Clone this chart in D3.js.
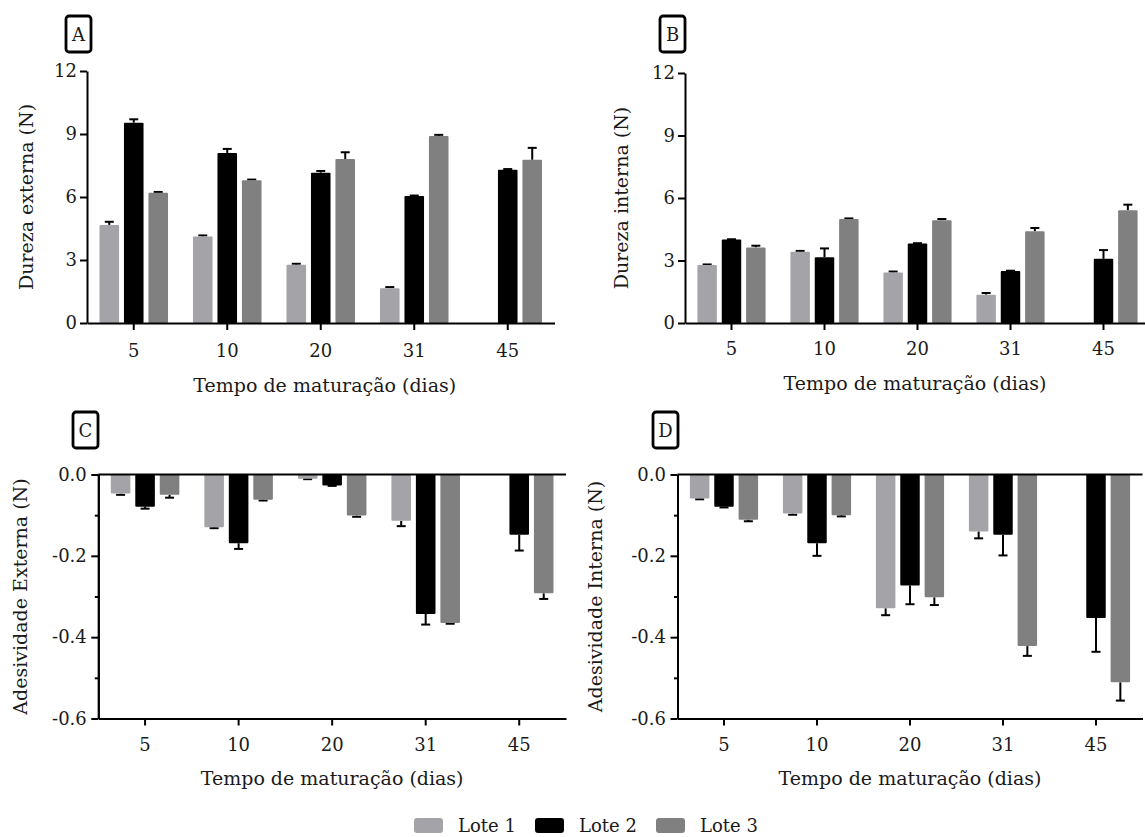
<!DOCTYPE html>
<html lang="pt">
<meta charset="utf-8">
<title>Dureza e adesividade</title>
<script src="https://d3js.org/d3.v7.min.js"></script>
<style>
body { margin: 0; background: #fff; }
svg text { font-family: Georgia, "DejaVu Serif", serif; fill: #1a1a1a; }
.axis path, .axis line { stroke: #000; stroke-width: 2; }
.axis text { font-size: 18px; }
.title { font-size: 19px; }
</style>
<body>
<div id="chart"></div>
<script>
// categories
const days = ["5", "10", "20", "31", "45"];
const lotes = ["Lote 1", "Lote 2", "Lote 3"];
const colors = ["#a4a4a8", "#000000", "#808080"];

// A - Dureza externa (N), mean and error
const extL1 = [4.67, 4.12, 2.77, 1.66, null];
const extL2 = [9.54, 8.10, 7.16, 6.05, 7.30];
const extL3 = [6.20, 6.80, 7.81, 8.91, 7.77];
const extL1Err = [0.15, 0.05, 0.05, 0.05, null];
const extL2Err = [0.16, 0.19, 0.08, 0.02, 0.03];
const extL3Err = [0.04, 0.03, 0.32, 0.05, 0.57];

// B - Dureza interna (N)
const intL1 = [2.78, 3.42, 2.43, 1.36, null];
const intL2 = [4.01, 3.16, 3.82, 2.50, 3.08];
const intL3 = [3.63, 4.99, 4.93, 4.41, 5.41];
const intL1Err = [0.03, 0.04, 0.04, 0.08, null];
const intL2Err = [0.01, 0.42, 0.01, 0.01, 0.42];
const intL3Err = [0.08, 0.03, 0.06, 0.15, 0.27];

// C - Adesividade externa (N)
const adExtL1 = [-0.047, -0.130, -0.0105, -0.114, null];
const adExtL2 = [-0.079, -0.169, -0.027, -0.343, -0.148];
const adExtL3 = [-0.050, -0.062, -0.101, -0.365, -0.292];
const adExtL1Err = [0.003, 0.002, 0.001, 0.013, null];
const adExtL2Err = [0.005, 0.014, 0.001, 0.026, 0.039];
const adExtL3Err = [0.007, 0.002, 0.003, 0.002, 0.014];

// D - Adesividade interna (N)
const adIntL1 = [-0.059, -0.096, -0.329, -0.140, null];
const adIntL2 = [-0.079, -0.169, -0.273, -0.148, -0.353];
const adIntL3 = [-0.111, -0.100, -0.302, -0.422, -0.511];
const adIntL1Err = [0.002, 0.003, 0.017, 0.017, null];
const adIntL2Err = [0.002, 0.031, 0.046, 0.051, 0.083];
const adIntL3Err = [0.004, 0.003, 0.019, 0.024, 0.045];

const durezaTicks = [0, 3, 6, 9, 12];
const adesTicks = [-0.6, -0.4, -0.2, 0];
const adesMinor = [-0.5, -0.3, -0.1];
const xTitle = "Tempo de maturação (dias)";

const W = 1145, H = 837;
const svg = d3.select("#chart").append("svg")
  .attr("width", W).attr("height", H);

// plain hyphen instead of the unicode minus d3 uses
const fmt1 = d => d3.format(".1f")(d).replace("\u2212", "-");

function drawPanel(p) {
  const g = svg.append("g");
  const series = [p.s1, p.s2, p.s3];
  const errs = [p.e1, p.e2, p.e3];

  const x = d3.scaleBand().domain(days).range([p.x0, p.x1]);
  const xIn = d3.scaleBand().domain(lotes)
    .range([0, x.bandwidth()])
    .paddingInner(0.2).paddingOuter(0.51);
  const y = d3.scaleLinear().domain(p.domain).range([p.yBottom, p.yTop]);

  // rows: one per bar
  const rows = [];
  lotes.forEach((l, i) => {
    days.forEach((d, j) => {
      if (series[i][j] != null) rows.push({day: d, lote: l, i: i, v: series[i][j], e: errs[i][j]});
    });
  });

  // error bars (behind bars)
  const eb = g.append("g").attr("stroke", "#000").attr("stroke-width", 2);
  rows.forEach(r => {
    const cx = x(r.day) + xIn(r.lote) + xIn.bandwidth() / 2;
    const end = r.v + Math.sign(r.v) * r.e;
    eb.append("line").attr("x1", cx).attr("x2", cx).attr("y1", y(r.v)).attr("y2", y(end));
    eb.append("line").attr("x1", cx - 4.5).attr("x2", cx + 4.5).attr("y1", y(end)).attr("y2", y(end));
  });

  g.append("g").selectAll("rect").data(rows).join("rect")
    .attr("x", r => x(r.day) + xIn(r.lote))
    .attr("width", xIn.bandwidth())
    .attr("y", r => Math.min(y(r.v), y(0)))
    .attr("height", r => Math.abs(y(r.v) - y(0)))
    .attr("rx", 1)
    .attr("fill", r => colors[r.i]);

  // y axis
  g.append("g").attr("class", "axis")
    .attr("transform", `translate(${p.x0},0)`)
    .call(d3.axisLeft(y).tickValues(p.ticks).tickSize(7).tickSizeOuter(0)
      .tickPadding(p.pad).tickFormat(p.fmt));
  if (p.minor) {
    g.append("g").attr("class", "axis")
      .attr("transform", `translate(${p.x0},0)`)
      .call(d3.axisLeft(y).tickValues(p.minor).tickSize(3.5).tickSizeOuter(0).tickFormat(""));
  }

  // x axis at bottom
  const xa = g.append("g").attr("class", "axis")
    .attr("transform", `translate(0,${p.yBottom})`)
    .call(d3.axisBottom(x).tickSize(7).tickSizeOuter(0).tickPadding(p.xpad));
  xa.selectAll("text").attr("dy", 0).attr("y", p.xpad);

  // zero line when the bars hang downwards
  if (p.domain[1] === 0) {
    g.append("line").attr("stroke", "#000").attr("stroke-width", 2)
      .attr("x1", p.x0).attr("x2", p.x1).attr("y1", y(0)).attr("y2", y(0));
  }

  // titles
  g.append("text").attr("class", "title")
    .attr("text-anchor", "middle")
    .attr("x", (p.x0 + Math.min(p.x1, W)) / 2 + p.tdx).attr("y", p.yBottom + p.tdy)
    .text(xTitle);
  g.append("text").attr("class", "title")
    .attr("text-anchor", "middle")
    .attr("transform", `translate(${p.yx},${(p.yTop + p.yBottom) / 2}) rotate(-90)`)
    .text(p.ytitle);

  // panel letter
  g.append("rect").attr("x", p.bx).attr("y", p.by).attr("width", 25).attr("height", 36)
    .attr("rx", 3).attr("fill", "#fff").attr("stroke", "#000").attr("stroke-width", 2.8);
  g.append("text").attr("x", p.bx + 12.5).attr("y", p.by + 25)
    .attr("text-anchor", "middle").style("font-size", "18px").text(p.letter);
}

drawPanel({letter: "A", bx: 66, by: 16, s1: extL1, s2: extL2, s3: extL3, e1: extL1Err, e2: extL2Err, e3: extL3Err,
  x0: 87, x1: 554.5, yTop: 71, yBottom: 323, domain: [0, 12], ticks: durezaTicks, fmt: d3.format("d"),
  pad: 3, xpad: 34, tdx: 4, tdy: 69, yx: 33, ytitle: "Dureza externa (N)"});
drawPanel({letter: "B", bx: 660, by: 16, s1: intL1, s2: intL2, s3: intL3, e1: intL1Err, e2: intL2Err, e3: intL3Err,
  x0: 685, x1: 1150, yTop: 73, yBottom: 323, domain: [0, 12], ticks: durezaTicks, fmt: d3.format("d"),
  pad: 3, xpad: 32, tdx: 0, tdy: 67, yx: 628, ytitle: "Dureza interna (N)"});
drawPanel({letter: "C", bx: 73, by: 412, s1: adExtL1, s2: adExtL2, s3: adExtL3, e1: adExtL1Err, e2: adExtL2Err, e3: adExtL3Err,
  x0: 98.3, x1: 566, yTop: 474.5, yBottom: 718.5, domain: [-0.6, 0], ticks: adesTicks, minor: adesMinor,
  fmt: fmt1, pad: 4.5, xpad: 32, tdx: 0, tdy: 66, yx: 27, ytitle: "Adesividade Externa (N)"});
drawPanel({letter: "D", bx: 653, by: 412, s1: adIntL1, s2: adIntL2, s3: adIntL3, e1: adIntL1Err, e2: adIntL2Err, e3: adIntL3Err,
  x0: 677.5, x1: 1142.5, yTop: 474.5, yBottom: 718.5, domain: [-0.6, 0], ticks: adesTicks, minor: adesMinor,
  fmt: fmt1, pad: 4.5, xpad: 32, tdx: 0, tdy: 66, yx: 602, ytitle: "Adesividade Interna (N)"});

// legend
const leg = svg.append("g").attr("transform", "translate(414,818)");
const item = leg.selectAll("g").data(lotes).join("g")
  .attr("transform", (d, i) => `translate(${i * 121},0)`);
item.append("rect").attr("width", 29).attr("height", 15).attr("rx", 3)
  .attr("fill", (d, i) => colors[i]);
item.append("text").attr("x", 44).attr("y", 14).style("font-size", "18px").text(d => d);
</script>
</body>
</html>
